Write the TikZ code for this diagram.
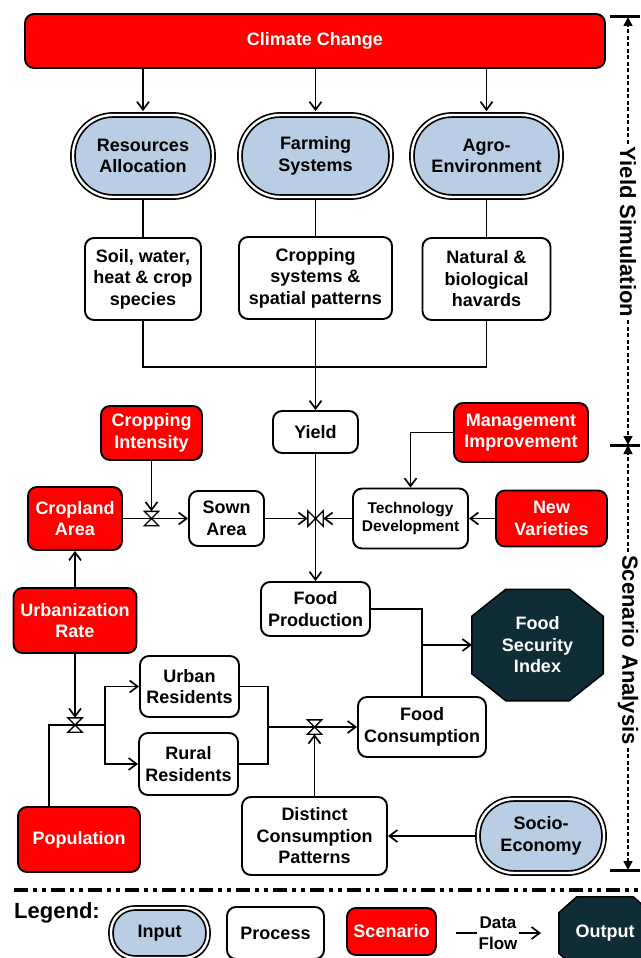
\documentclass[tikz,border=0pt]{standalone}
\usepackage{fontspec}
\setmainfont{Liberation Sans}
\usetikzlibrary{arrows.meta,calc}
\definecolor{scenred}{HTML}{FF0000}
\definecolor{inpblue}{HTML}{B9CDE5}
\definecolor{outdark}{HTML}{0F2D37}
\pgfdeclarelayer{bg}
\pgfsetlayers{bg,main}
\newcommand\drawocto[3]{%
  \draw[octo] ($(#1.north west)+(#2,0)$) -- ($(#1.north east)+(-#2,0)$) -- ($(#1.north east)+(0,#3)$) -- ($(#1.south east)+(0,-#3)$) -- ($(#1.south east)+(-#2,0)$) -- ($(#1.south west)+(#2,0)$) -- ($(#1.south west)+(0,-#3)$) -- ($(#1.north west)+(0,#3)$) -- cycle;}
\begin{document}
\begin{tikzpicture}[x=1pt,y=-1pt,
  txt/.style={font=\fontsize{18pt}{21.5pt}\selectfont\bfseries, align=center, inner sep=1pt},
  base/.style={txt, draw, line width=1.9pt, rounded corners=9pt},
  proc/.style={base, fill=white},
  scen/.style={base, fill=scenred, text=white},
  inp/.style={txt, draw, line width=1.7pt, double=white, double distance=2.4pt, fill=inpblue, rounded corners=#1},
  outn/.style={txt, text=white},
  octo/.style={draw, line width=1.6pt, fill=outdark, line join=miter},
  link/.style={line width=1.7pt},
  flow/.style={line width=1.7pt, -{Straight Barb[length=8pt,width=12pt]}},
  vnode/.style={minimum width=14pt, minimum height=14pt, inner sep=0pt},
  valve/.style={draw, fill=white, line width=1.4pt, line join=miter},
  sidetxt/.style={font=\fontsize{22pt}{24pt}\selectfont\bfseries, inner sep=3pt},
  side/.style={line width=1.4pt, dash pattern=on 4pt off 2.5pt, -{Triangle[length=9pt,width=9pt]}},
  bar/.style={line width=3pt}
]
\useasboundingbox (0,0) rectangle (640,958);

% ---------- top rows ----------
\node[scen, minimum width=580pt, minimum height=54pt] (cc) at (315,41) {Climate Change};
\node[inp=40pt, minimum width=140pt, minimum height=82pt] (ra) at (143,156) {Resources\\Allocation};
\node[inp=40pt, minimum width=151pt, minimum height=82pt] (fs) at (315.5,156) {Farming\\Systems};
\node[inp=40pt, minimum width=149pt, minimum height=82pt] (ae) at (486.5,156) {Agro-\\Environment};

\node[proc, minimum width=116pt, minimum height=82pt] (soil) at (143,279) {Soil, water,\\heat \& crop\\species};
\node[proc, minimum width=153pt, minimum height=82pt] (crsys) at (315.5,278) {Cropping\\systems \&\\spatial patterns};
\node[proc, minimum width=128pt, minimum height=82pt] (nat) at (486.5,279) {Natural \&\\biological\\havards};

% ---------- middle ----------
\node[proc, minimum width=85pt, minimum height=42pt] (yield) at (315.5,432) {Yield};
\node[scen, minimum width=101pt, minimum height=54pt] (ci) at (151.5,433) {Cropping\\Intensity};
\node[scen, minimum width=134pt, minimum height=59pt] (mi) at (521,432.5) {Management\\Improvement};
\node[scen, minimum width=94pt, minimum height=63pt] (ca) at (75,518.5) {Cropland\\Area};
\node[proc, minimum width=75pt, minimum height=55pt] (sa) at (226.5,518.5) {Sown\\Area};
\node[proc, minimum width=115pt, minimum height=60pt, font=\fontsize{15.5pt}{17.8pt}\selectfont\bfseries] (td) at (410.5,518.5) {Technology\\Development};
\node[scen, minimum width=111pt, minimum height=56pt] (nv) at (551.5,518.5) {New\\Varieties};

% ---------- lower ----------
\node[scen, minimum width=123pt, minimum height=65pt] (ur) at (75,620.5) {Urbanization\\Rate};
\node[proc, minimum width=109pt, minimum height=54pt] (fp) at (315.5,609) {Food\\Production};
\node[outn, minimum width=131pt, minimum height=111pt] (fsi) at (537.5,645) {Food\\Security\\Index};
\node[proc, minimum width=99pt, minimum height=61pt] (urb) at (189.5,686.5) {Urban\\Residents};
\node[proc, minimum width=99pt, minimum height=62pt] (rur) at (188.5,764) {Rural\\Residents};
\node[proc, minimum width=128pt, minimum height=60pt] (fc) at (422,727) {Food\\Consumption};
\node[scen, minimum width=122pt, minimum height=65pt] (pop) at (79,839.5) {Population};
\node[proc, minimum width=145pt, minimum height=78pt] (dcp) at (314.5,836) {Distinct\\Consumption\\Patterns};
\node[inp=36pt, minimum width=126pt, minimum height=74pt] (se) at (541,836) {Socio-\\Economy};

% ---------- valves ----------
\node[vnode] (v1) at (ci |- ca) {};
\node[vnode, minimum width=15pt, minimum height=15pt] (v2) at (yield |- td) {};
\node[vnode] (v3) at (75,725) {};
\node[vnode] (v4) at (dcp |- fc) {};

% ---------- side labels ----------
\node[sidetxt, rotate=-90] (ysim) at (628,232) {Yield Simulation};
\node[sidetxt, rotate=-90] (sana) at (628,650) {Scenario Analysis};
\coordinate (t1) at (628,17);
\coordinate (t2) at (628,445);
\coordinate (t3) at (628,870);
\coordinate (t1a) at (610,17); \coordinate (t1b) at (640,17);
\coordinate (t2a) at (610,445); \coordinate (t2b) at (640,445);
\coordinate (t3a) at (610,870); \coordinate (t3b) at (640,870);
\draw[bar] (t1a) -- (t1b);
\draw[bar] (t2a) -- (t2b);
\draw[bar] (t3a) -- (t3b);
\draw[side] (ysim.west) -- (t1);
\draw[side] (ysim.east) -- (t2);
\draw[side] (sana.west) -- (t2);
\draw[side] (sana.east) -- (t3);

% ---------- legend ----------
\coordinate (sep1) at (14,890); \coordinate (sep2) at (640,890);
\draw[line width=3.5pt, dash pattern=on 14pt off 5pt on 4pt off 5pt on 4pt off 5pt] (sep1) -- (sep2);
\node[font=\fontsize{22pt}{24pt}\selectfont\bfseries, inner sep=0pt] (leg) at (57,913) {Legend:};
\node[inp=24pt, minimum width=97pt, minimum height=50pt] (linp) at (159.5,933) {Input};
\node[proc, minimum width=97pt, minimum height=52pt] (lproc) at (275.5,933) {Process};
\node[scen, minimum width=89pt, minimum height=47pt] (lscen) at (391.5,931.5) {Scenario};
\coordinate (lf1) at (456,933); \coordinate (lf2) at (541,933);
\node[outn, minimum width=92pt, minimum height=72pt] (lout) at (605,933) {Output};

\begin{pgfonlayer}{bg}
\drawocto{fsi}{34}{27}
\drawocto{lout}{18}{16}
\draw[flow, shorten >=3pt] (cc.south -| ra.north) -- (ra.north);
\draw[flow, shorten >=3pt] (cc.south -| fs.north) -- (fs.north);
\draw[flow, shorten >=3pt] (cc.south -| ae.north) -- (ae.north);
\draw[link] (ra.south) -- (soil.north);
\draw[link] (fs.south) -- (crsys.north);
\draw[link] (ae.south) -- (nat.north);
\coordinate (ymerge) at (315.5,367);
\draw[link] (soil.south) |- (ymerge) -| (nat.south);
\draw[flow] (crsys.south) -- (yield.north);
\draw[flow] (ci.south) -- (v1.north);
\draw[flow] (ca.east) -- (sa.west);
\draw[flow] (sa.east) -- (v2.west);
\draw[flow] (td.west) -- (v2.east);
\draw[flow] (yield.south) -- (fp.north);
\draw[flow] (mi.west) -| (td.north);
\draw[flow] (nv.west) -- (td.east);
\draw[flow] (ur.north) -- (ca.south);
\coordinate (fjoin) at (fc.north |- fsi.west);
\draw[link] (fp.east) -| (fjoin);
\draw[link] (fc.north) -- (fjoin);
\draw[flow] (fjoin) -- (fsi.west);
\draw[flow] (ur.south) -- (v3.north);
\coordinate (pcorner) at (49,725);
\coordinate (rjunc) at (105,725);
\draw[link] (pcorner |- pop.north) -- (pcorner) -- (rjunc);
\draw[flow] (rjunc) |- (urb.west);
\draw[flow] (rjunc) |- (rur.west);
\coordinate (cjoin) at (268,727);
\draw[link] (urb.east) -| (cjoin);
\draw[link] (rur.east) -| (cjoin);
\draw[flow] (cjoin) -- (fc.west);
\draw[flow] (dcp.north) -- (v4.south);
\draw[flow] (se.west) -- (dcp.east);
\draw[flow] (lf1) -- (lf2);
\end{pgfonlayer}

\node[txt, fill=white, font=\fontsize{17pt}{21pt}\selectfont\bfseries, inner sep=2pt] (dflow) at (498,933) {Data\\Flow};

% valves on top
\draw[valve] (v1.north west) -- (v1.north east) -- (v1.south west) -- (v1.south east) -- cycle;
\draw[valve] (v2.north west) -- (v2.south west) -- (v2.north east) -- (v2.south east) -- cycle;
\draw[valve] (v3.north west) -- (v3.north east) -- (v3.south west) -- (v3.south east) -- cycle;
\draw[valve] (v4.north west) -- (v4.north east) -- (v4.south west) -- (v4.south east) -- cycle;
\end{tikzpicture}
\end{document}
